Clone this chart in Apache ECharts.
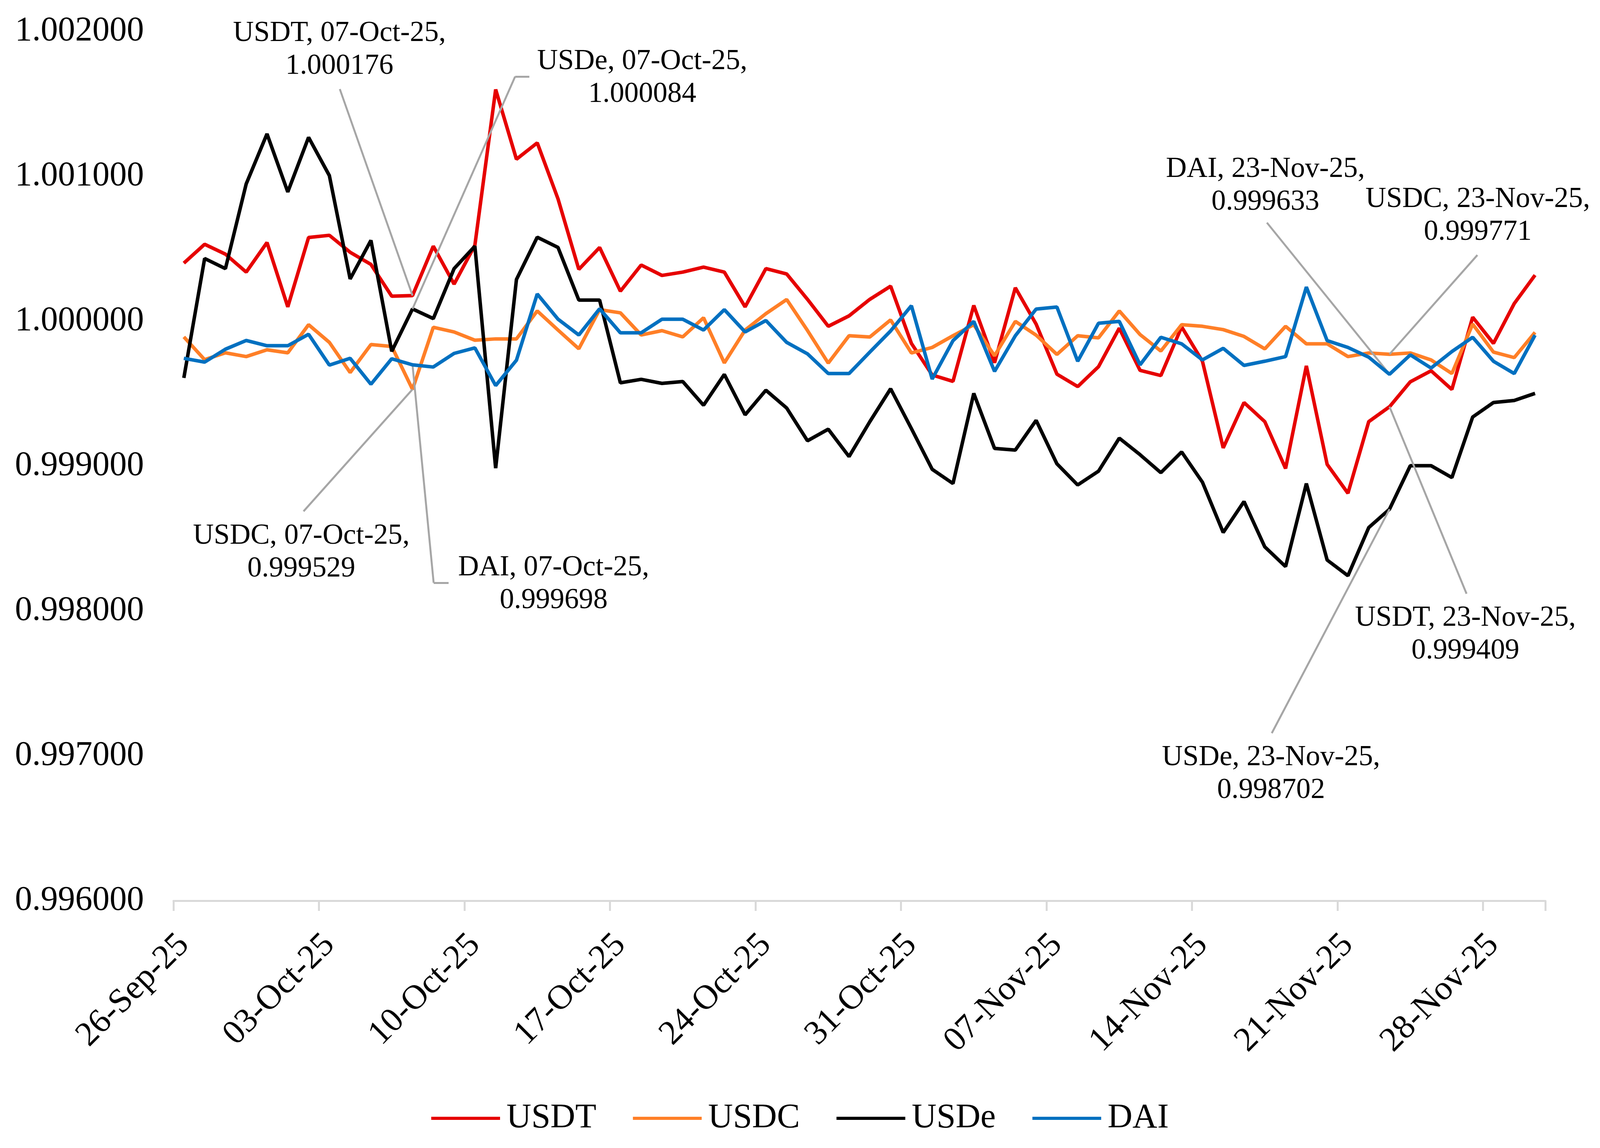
<!DOCTYPE html>
<html>
<head>
<meta charset="utf-8">
<script src="https://cdn.jsdelivr.net/npm/echarts@6/dist/echarts.min.js"></script>
<style>
html,body{margin:0;padding:0;background:#fff;overflow:hidden;}
#chart{width:4280px;height:2939px;}
</style>
</head>
<body>
<div id="chart"></div>
<script>
const dates = [
'26-Sep-25','27-Sep-25','28-Sep-25','29-Sep-25','30-Sep-25',
'01-Oct-25','02-Oct-25','03-Oct-25','04-Oct-25','05-Oct-25','06-Oct-25','07-Oct-25','08-Oct-25','09-Oct-25','10-Oct-25',
'11-Oct-25','12-Oct-25','13-Oct-25','14-Oct-25','15-Oct-25','16-Oct-25','17-Oct-25','18-Oct-25','19-Oct-25','20-Oct-25',
'21-Oct-25','22-Oct-25','23-Oct-25','24-Oct-25','25-Oct-25','26-Oct-25','27-Oct-25','28-Oct-25','29-Oct-25','30-Oct-25','31-Oct-25',
'01-Nov-25','02-Nov-25','03-Nov-25','04-Nov-25','05-Nov-25','06-Nov-25','07-Nov-25','08-Nov-25','09-Nov-25','10-Nov-25',
'11-Nov-25','12-Nov-25','13-Nov-25','14-Nov-25','15-Nov-25','16-Nov-25','17-Nov-25','18-Nov-25','19-Nov-25','20-Nov-25',
'21-Nov-25','22-Nov-25','23-Nov-25','24-Nov-25','25-Nov-25','26-Nov-25','27-Nov-25','28-Nov-25','29-Nov-25','30-Nov-25'
];

const USDT = [
1.000400,1.000530,1.000462,1.000338,1.000542,1.000098,1.000577,1.000592,1.000475,1.000391,
1.000172,1.000176,1.000517,1.000255,1.000523,1.001598,1.001117,1.001230,1.000843,1.000357,
1.000508,1.000206,1.000387,1.000315,1.000338,1.000372,1.000338,1.000098,1.000362,1.000325,
1.000150,0.999964,1.000036,1.000150,1.000241,0.999846,0.999628,0.999584,1.000108,0.999713,
1.000230,0.999979,0.999634,0.999548,0.999685,0.999951,0.999660,0.999624,0.999960,0.999723,
0.999125,0.999438,0.999306,0.998983,0.999691,0.999011,0.998812,0.999306,0.999409,0.999581,
0.999657,0.999528,1.000027,0.999846,1.000121,1.000317
];

const USDC = [
0.999891,0.999734,0.999781,0.999755,0.999802,0.999781,0.999975,0.999853,0.999645,0.999838,
0.999825,0.999529,0.999957,0.999925,0.999868,0.999877,0.999877,1.000070,0.999938,0.999809,
1.000079,1.000057,0.999904,0.999934,0.999891,1.000023,0.999711,0.999938,1.000051,1.000149,
0.999935,0.999710,0.999899,0.999890,1.000008,0.999780,0.999818,0.999899,0.999975,0.999761,
0.999998,0.999903,0.999770,0.999899,0.999884,1.000070,0.999907,0.999793,0.999975,0.999964,
0.999941,0.999894,0.999808,0.999964,0.999843,0.999843,0.999755,0.999780,0.999771,0.999780,
0.999732,0.999638,0.999979,0.999786,0.999748,0.999922
];

const USDe = [
0.999608,1.000432,1.000362,1.000947,1.001292,1.000891,1.001268,1.001004,1.000291,1.000557,
0.999791,1.000084,1.000017,1.000362,1.000517,0.998985,1.000287,1.000579,1.000508,1.000145,
1.000145,0.999574,0.999598,0.999570,0.999583,0.999419,0.999632,0.999353,0.999523,0.999400,
0.999174,0.999254,0.999065,0.999306,0.999533,0.999258,0.998977,0.998879,0.999501,0.999121,
0.999110,0.999315,0.999015,0.998869,0.998964,0.999192,0.999078,0.998954,0.999097,0.998888,
0.998541,0.998755,0.998442,0.998306,0.998879,0.998351,0.998243,0.998575,0.998702,0.999002,
0.999002,0.998920,0.999338,0.999438,0.999452,0.999501
];

const DAI = [
0.999743,0.999717,0.999806,0.999866,0.999830,0.999830,0.999909,0.999696,0.999743,0.999564,
0.999740,0.999698,0.999683,0.999777,0.999815,0.999555,0.999730,1.000187,1.000013,0.999904,
1.000085,0.999919,0.999919,1.000013,1.000013,0.999938,1.000079,0.999925,1.000004,0.999853,
0.999774,0.999638,0.999638,0.999786,0.999932,1.000106,0.999600,0.999865,0.999998,0.999653,
0.999899,1.000083,1.000097,0.999723,0.999985,0.999998,0.999698,0.999888,0.999843,0.999732,
0.999812,0.999694,0.999723,0.999755,1.000235,0.999865,0.999818,0.999751,0.999633,0.999767,
0.999676,0.999790,0.999888,0.999723,0.999638,0.999903
];

const seriesNames = ['USDT','USDC','USDe','DAI'];
const seriesColors = ['#E60000','#FF7F27','#000000','#0070C0'];
const yTicks = [0.996, 0.997, 0.998, 0.999, 1.000, 1.001, 1.002];

// Annotated points: series, category index; label block centre and leader anchor (layout only, in 4280x2939 design px)
const annotations = [
  {series:'USDT', idx:11, lx:908,  ly:128,  lead:[[909,228]]},
  {series:'USDe', idx:11, lx:1718, ly:200,  lead:[[1378,196],[1416,196]]},
  {series:'USDC', idx:11, lx:806,  ly:1415, lead:[[812,1309]]},
  {series:'DAI',  idx:11, lx:1481, ly:1496, lead:[[1160,1492],[1200,1492]]},
  {series:'DAI',  idx:58, lx:3385, ly:476,  lead:[[3389,570]]},
  {series:'USDC', idx:58, lx:3953, ly:553,  lead:[[3952,653]]},
  {series:'USDT', idx:58, lx:3920, ly:1625, lead:[[3923,1520]]},
  {series:'USDe', idx:58, lx:3400, ly:1982, lead:[[3402,1877]]}
];

const values = {USDT: USDT, USDC: USDC, USDe: USDe, DAI: DAI};
const FONT = "'Liberation Serif', 'Times New Roman', serif";

// Fit the 4280x2939 design into the actual viewport
const VW = window.innerWidth || 4280;
const VH = window.innerHeight || 2939;
const sx = VW / 4280, sy = VH / 2939;
const sf = Math.min(sx, sy);
const X = v => v * sx, Y = v => v * sy, F = v => v * sf;

const el = document.getElementById('chart');
el.style.width = VW + 'px';
el.style.height = VH + 'px';

function buildSeries(name, i) {
  const vals = values[name];
  const ann = annotations.filter(a => a.series === name);
  const data = vals.map((v, k) => {
    const a = ann.find(x => x.idx === k);
    if (!a) return v;
    return {
      value: v,
      label: {
        show: true,
        formatter: name + ', ' + dates[k] + ',\n' + v.toFixed(6)
      }
    };
  });
  const markData = [];
  ann.forEach(a => {
    const pts = a.lead;
    markData.push([{coord: [dates[a.idx], vals[a.idx]]}, {x: X(pts[0][0]), y: Y(pts[0][1])}]);
    for (let p = 1; p < pts.length; p++) {
      markData.push([{x: X(pts[p-1][0]), y: Y(pts[p-1][1])}, {x: X(pts[p][0]), y: Y(pts[p][1])}]);
    }
  });
  return {
    name: name,
    type: 'line',
    data: data,
    showSymbol: true,
    showAllSymbol: true,
    symbol: 'circle',
    symbolSize: 1,
    itemStyle: {color: seriesColors[i]},
    lineStyle: {color: seriesColors[i], width: 9},
    emphasis: {disabled: true},
    label: {
      show: false,
      fontFamily: FONT,
      fontSize: F(77),
      lineHeight: Y(84),
      color: '#000',
      align: 'center'
    },
    labelLayout: function (params) {
      const a = ann.find(x => x.idx === params.dataIndex);
      if (!a) return {};
      return {x: X(a.lx), y: Y(a.ly), align: 'center', verticalAlign: 'middle'};
    },
    markLine: {
      silent: true,
      symbol: ['none', 'none'],
      label: {show: false},
      lineStyle: {color: '#A6A6A6', width: 5, type: 'solid', opacity: 1},
      emphasis: {disabled: true},
      data: markData
    },
    z: 2 + i
  };
}

const chart = echarts.init(el, null, {renderer: 'canvas', width: VW, height: VH});
chart.setOption({
  animation: false,
  backgroundColor: '#ffffff',
  grid: {left: X(464), right: X(146), top: Y(80), bottom: Y(633), containLabel: false, outerBoundsMode: 'none'},
  legend: {
    data: seriesNames,
    left: 'center',
    top: Y(2814),
    icon: 'rect',
    itemWidth: X(184),
    itemHeight: Y(8),
    itemGap: X(98),
    textStyle: {fontFamily: FONT, fontSize: F(92), color: '#000', padding: [0, 0, 0, X(12)]}
  },
  xAxis: {
    type: 'category',
    data: dates,
    boundaryGap: true,
    axisLine: {show: true, lineStyle: {color: '#D9D9D9', width: 5}},
    axisTick: {show: true, interval: 6, length: Y(26), lineStyle: {color: '#D9D9D9', width: 5}},
    axisLabel: {
      interval: 6,
      rotate: 45,
      margin: Y(100),
      fontFamily: FONT,
      fontSize: F(92),
      color: '#000'
    },
    splitLine: {show: false}
  },
  yAxis: {
    type: 'value',
    min: yTicks[0],
    max: yTicks[yTicks.length - 1],
    interval: 0.001,
    axisLine: {show: false},
    axisTick: {show: false},
    splitLine: {show: false},
    axisLabel: {
      margin: X(79),
      fontFamily: FONT,
      fontSize: F(92),
      color: '#000',
      formatter: v => v.toFixed(6)
    }
  },
  series: seriesNames.map((n, i) => buildSeries(n, i))
});
</script>
</body>
</html>
